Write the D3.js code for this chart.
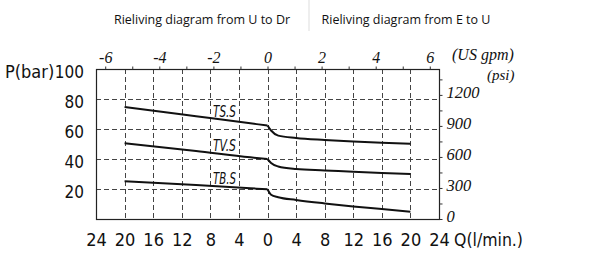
<!DOCTYPE html>
<html><head><meta charset="utf-8">
<script src="https://cdn.jsdelivr.net/npm/d3@7/dist/d3.min.js"></script>
<style>body{margin:0;background:#fff}svg{display:block}</style>
</head><body>
<svg id="c" width="600" height="270"></svg>
<script>
// Data (Q in l/min; left branch negative = "U to Dr", right branch positive = "E to U")
const seriesNames = ["TS.S", "TV.S", "TB.S"];
const tsLeft  = [[-20, 74.7], [-10, 68.5], [-2.4, 63.8], [0, 62.3]];
const tsRight = [[0, 62.3], [0.5, 59], [1.5, 55.6], [4, 54], [8, 52.7], [12, 51.7], [16, 50.9], [20, 50.2]];
const tvLeft  = [[-20, 50.5], [-10, 45.3], [-2.4, 41.1], [0, 40]];
const tvRight = [[0, 40], [0.5, 37.3], [1.5, 35], [4, 33.3], [8, 32.4], [12, 31.5], [16, 30.7], [20, 30]];
const tbLeft  = [[-20, 25.1], [-10, 22.6], [-2.4, 20.5], [0, 19.8]];
const tbRight = [[0, 19.8], [0.5, 16.2], [1.5, 14.5], [4, 12.7], [8, 10.4], [12, 8.4], [16, 6.7], [20, 4.9]];
const qTicks = [-24, -20, -16, -12, -8, -4, 0, 4, 8, 12, 16, 20, 24];
const qGrid = [-20, -16, -12, -8, -4, 0, 4, 8, 12, 16, 20];
const barTicks = [20, 40, 60, 80, 100];
const barGrid = [20, 40, 60, 80];
const gpmTicks = [-6, -5, -4, -3, -2, -1, 0, 1, 2, 3, 4, 5, 6];
const gpmLabels = [-6, -4, -2, 0, 2, 4, 6];
const psiTicks = [0, 150, 300, 450, 600, 750, 900, 1050, 1200, 1350];
const psiLabels = [0, 300, 600, 900, 1200];
const titles = ["Rieliving diagram from U to Dr", "Rieliving diagram from E to U"];
const L_PER_GAL = 3.785, PSI_PER_BAR = 14.5038;

const svg = d3.select("#c");
const X0 = 96, X1 = 439, Y0 = 219, Y1 = 69;
const x = d3.scaleLinear().domain([-24, 24]).range([X0, X1]);
const y = d3.scaleLinear().domain([0, 100]).range([Y0, Y1]);
const xg = d3.scaleLinear().domain([-24 / L_PER_GAL, 24 / L_PER_GAL]).range([X0, X1]);
const yp = d3.scaleLinear().domain([0, 100 * PSI_PER_BAR]).range([Y0, Y1]);

const narrow = "'DejaVu Sans Condensed','Liberation Sans Narrow',sans-serif";
const serif = "'Liberation Serif','DejaVu Serif',serif";

// titles
svg.append("text").attr("x", 202).attr("y", 24).attr("text-anchor", "middle")
  .attr("font-family", "'Open Sans',sans-serif").attr("font-size", 12.5).attr("fill", "#111").text(titles[0]);
svg.append("line").attr("x1", 309).attr("x2", 309).attr("y1", 0).attr("y2", 31).attr("stroke", "#ddd").attr("stroke-width", 1);
svg.append("text").attr("x", 406).attr("y", 24).attr("text-anchor", "middle")
  .attr("font-family", "'Open Sans',sans-serif").attr("font-size", 12.5).attr("fill", "#111").text(titles[1]);

// grid
const grid = svg.append("g").attr("stroke", "#444").attr("stroke-width", 1).attr("stroke-dasharray", "5,3");
grid.selectAll("line.v").data(qGrid).join("line").attr("class", "v")
  .attr("x1", d => Math.round(x(d)) + 0.5).attr("x2", d => Math.round(x(d)) + 0.5).attr("y1", Y1).attr("y2", Y0);
grid.selectAll("line.h").data(barGrid).join("line").attr("class", "h")
  .attr("x1", X0).attr("x2", X1).attr("y1", d => Math.round(y(d)) + 0.5).attr("y2", d => Math.round(y(d)) + 0.5);

// frame
svg.append("rect").attr("x", X0 + 0.5).attr("y", Y1 + 0.5).attr("width", X1 - X0).attr("height", Y0 - Y1)
  .attr("fill", "none").attr("stroke", "#222").attr("stroke-width", 1.2);

// top gpm axis
const topAx = d3.axisTop(xg).tickValues(gpmTicks).tickSize(3)
  .tickFormat(d => gpmLabels.includes(d) ? String(d) : "");
const gt = svg.append("g").attr("transform", `translate(0,${Y1 + 0.5})`).call(topAx);
gt.select(".domain").remove();
gt.selectAll("line").attr("stroke", "#333");
gt.selectAll("text").attr("font-family", serif).attr("font-style", "italic").attr("font-size", 16)
  .attr("fill", "#111").attr("y", -7).attr("dy", 0);
svg.append("text").attr("x", 452).attr("y", 60).attr("font-family", serif).attr("font-style", "italic")
  .attr("font-size", 16).attr("fill", "#111").text("(US gpm)");

// right psi axis
const rAx = d3.axisRight(yp).tickValues(psiTicks).tickSize(3)
  .tickFormat(d => psiLabels.includes(d) ? d : "");
const gr = svg.append("g").attr("transform", `translate(${X1 + 0.5},0)`).call(rAx);
gr.select(".domain").remove();
gr.selectAll("line").attr("stroke", "#333");
gr.selectAll("text").attr("font-family", serif).attr("font-style", "italic").attr("font-size", 16.5)
  .attr("fill", "#111").attr("x", 7).attr("dy", 2.5);
svg.append("text").attr("x", 487).attr("y", 80).attr("font-family", serif).attr("font-style", "italic")
  .attr("font-size", 15).attr("fill", "#111").text("(psi)");

// left bar axis
const lAx = d3.axisLeft(y).tickValues(barTicks).tickSize(0).tickFormat(d3.format("d"));
const gl = svg.append("g").attr("transform", `translate(${X0},0)`).call(lAx);
gl.select(".domain").remove();
gl.selectAll("text").attr("font-family", narrow).attr("font-size", 17).attr("fill", "#111")
  .attr("x", -12).attr("dy", 8.5);
svg.append("text").attr("x", 5).attr("y", 77.5).attr("font-family", narrow).attr("font-size", 18)
  .attr("fill", "#111").text("P(bar)");

// bottom Q axis
const bAx = d3.axisBottom(x).tickValues(qTicks).tickSize(0).tickFormat(d => Math.abs(d));
const gb = svg.append("g").attr("transform", `translate(0,${Y0})`).call(bAx);
gb.select(".domain").remove();
gb.selectAll("text").attr("font-family", narrow).attr("font-size", 18).attr("fill", "#111")
  .attr("y", 26.5).attr("dy", 0);
svg.append("text").attr("x", 454).attr("y", 245.5).attr("font-family", narrow).attr("font-size", 18)
  .attr("fill", "#111").attr("textLength", 69).attr("lengthAdjust", "spacingAndGlyphs").text("Q(l/min.)");

// curves
const line = d3.line().x(d => x(d[0])).y(d => y(d[1])).curve(d3.curveMonotoneX);
const branches = [tsLeft, tsRight, tvLeft, tvRight, tbLeft, tbRight];
svg.append("g").selectAll("path").data(branches).join("path")
  .attr("d", line).attr("fill", "none").attr("stroke", "#111").attr("stroke-width", 2);

// labels
const labelY = [117, 151, 184];
svg.append("g").selectAll("text").data(seriesNames).join("text")
  .attr("x", 213).attr("y", (d, i) => labelY[i])
  .attr("font-family", narrow).attr("font-style", "italic").attr("font-size", 16).attr("fill", "#111")
  .attr("textLength", 23).attr("lengthAdjust", "spacingAndGlyphs").text(d => d);
</script>
</body></html>
